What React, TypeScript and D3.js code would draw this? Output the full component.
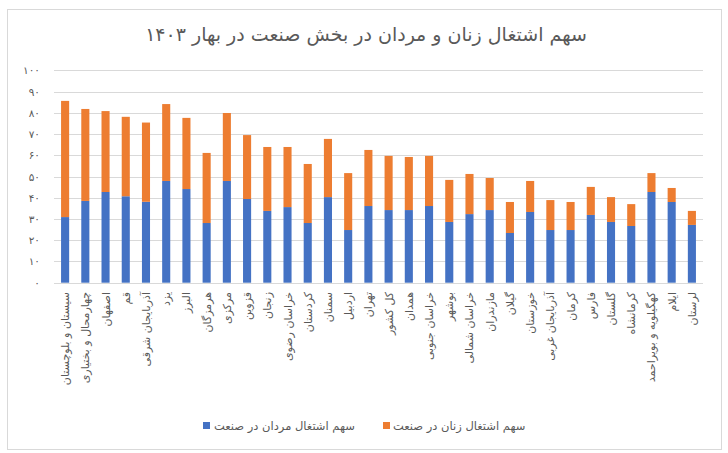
import React from "react";
import * as d3 from "d3";

const categories = [
  "سیستان و بلوچستان", "چهارمحال و بختیاری", "اصفهان", "قم", "آذربایجان شرقی", "یزد", "البرز", "هرمزگان",
  "مرکزی", "قزوین", "زنجان", "خراسان رضوی", "کردستان", "سمنان", "اردبیل", "تهران",
  "کل کشور", "همدان", "خراسان جنوبی", "بوشهر", "خراسان شمالی", "مازندران", "گیلان", "خوزستان",
  "آذربایجان غربی", "کرمان", "فارس", "گلستان", "کرمانشاه", "کهگیلویه و بویراحمد", "ایلام", "لرستان",
];
const menShare = [
  30.9, 38.5, 42.7, 40.7, 38.1, 47.9, 44.1, 28.1, 47.9, 39.4, 33.8, 35.6, 28.1, 40.3, 24.8, 36.1,
  34.2, 34.2, 36.1, 28.6, 32.3, 34.2, 23.4, 33.3, 24.8, 24.8, 31.9, 28.6, 26.7, 42.7, 38.0, 27.2,
];
const womenShare = [
  54.7, 43.3, 38.1, 37.4, 37.3, 36.2, 33.5, 33.0, 32.0, 30.1, 30.1, 28.3, 27.8, 27.4, 26.8, 26.4,
  25.5, 25.0, 23.6, 19.8, 18.9, 15.1, 14.6, 14.6, 14.1, 13.2, 13.2, 11.7, 10.3, 8.9, 6.6, 6.6,
];
const yTicks = [0, 10, 20, 30, 40, 50, 60, 70, 80, 90, 100];
const seriesNames = ["سهم اشتغال مردان در صنعت", "سهم اشتغال زنان در صنعت"];
const title = "سهم اشتغال زنان و مردان در بخش صنعت در بهار ۱۴۰۳";

const toFa = (n: number) => String(n).replace(/\d/g, (d) => "۰۱۲۳۴۵۶۷۸۹"[+d]);

const W = 728, H = 453;
const FONT = "'DejaVu Sans', sans-serif";
const BLUE = "#4472C4", ORANGE = "#ED7D31", GRAY = "#595959", GRID = "#d9d9d9";

export default function App() {
  const x = d3.scaleBand<string>().domain(categories).range([55, 702]).paddingInner(0.6).paddingOuter(0.3);
  const y = d3.scaleLinear().domain([0, 100]).range([282.7, 70.3]);
  const stack = d3.stack<number>().keys(["men", "women"]).value((i, k) => (k === "men" ? menShare[i] : womenShare[i]));
  const series = stack(categories.map((_, i) => i));
  const colors = [BLUE, ORANGE];

  return (
    <svg width={W} height={H} style={{ position: "absolute", left: 0, top: 0, background: "#fff" }} fontFamily={FONT}>
      <rect x={7.5} y={9.5} width={714} height={440} fill="#fff" stroke={GRID} strokeWidth={1} />
      <text x={366} y={41} textAnchor="middle" fontSize={19} fill={GRAY}>{title}</text>
      {yTicks.map((t) => (
        <g key={t}>
          <line x1={54} x2={703} y1={Math.round(y(t)) + 0.5} y2={Math.round(y(t)) + 0.5} stroke={GRID} strokeWidth={1} />
          <text x={40} y={y(t) + 4} textAnchor="end" fontSize={10.5} fill={GRAY}>{toFa(t)}</text>
        </g>
      ))}
      {series.map((s, si) => (
        <g key={si} fill={colors[si]}>
          {s.map((d, i) => (
            <rect key={i} x={x(categories[i])} width={x.bandwidth()} y={y(d[1])} height={y(d[0]) - y(d[1])} />
          ))}
        </g>
      ))}
      {categories.map((c) => {
        const cx = (x(c) as number) + x.bandwidth() / 2;
        return (
          <text key={c} transform={`translate(${cx + 4},292) rotate(-90)`} textAnchor="end" fontSize={11} fill={GRAY}>
            {c}
          </text>
        );
      })}
      <g fontSize={11.5} fill={GRAY}>
        <rect x={203} y={422} width={7} height={7} fill={BLUE} />
        <text x={214} y={429.5} textAnchor="start">{seriesNames[0]}</text>
        <rect x={383} y={422} width={7} height={7} fill={ORANGE} />
        <text x={393} y={429.5} textAnchor="start">{seriesNames[1]}</text>
      </g>
    </svg>
  );
}
